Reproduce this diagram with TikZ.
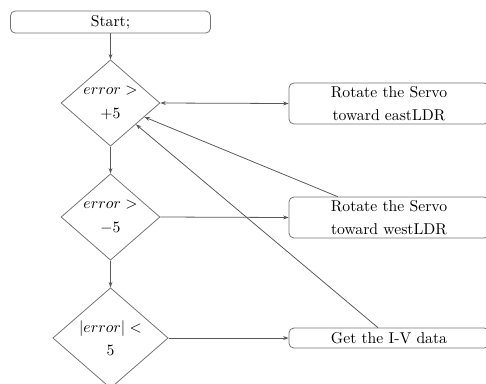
\documentclass[tikz,border=0pt]{standalone}
\usetikzlibrary{shapes.geometric,arrows.meta,calc}
\begin{document}
\begin{tikzpicture}[x=0.637pt,y=-0.637pt,
  line/.style={draw=black!65,line width=0.5pt},
  arr/.style={line,-{Stealth[length=3.5pt,width=2.5pt]}},
  darr/.style={line,{Stealth[length=3.5pt,width=2.5pt]}-{Stealth[length=3.5pt,width=2.5pt]}},
  procbox/.style={draw=black!55,line width=0.5pt,rounded corners=3pt,
    minimum width=127.4pt,inner sep=0pt,align=center},
  decision/.style={draw=black!55,line width=0.5pt,diamond,inner sep=0pt,
    align=center,aspect=1.15}]
  \useasboundingbox (0,0) rectangle (486,383);
  \clip (0,0) rectangle (486,383);

  % main column
  \node[procbox,minimum height=14pt] (start) at (110.5,22) {Start;};
  \node[decision,minimum width=63pt,minimum height=55pt] (d1) at (110.5,103)
    {$error >$\\[3pt] $+5$};
  \node[decision,minimum width=63pt,minimum height=55pt] (d2) at (110.5,217)
    {$error >$\\[3pt] $-5$};
  \node[decision,minimum width=73.5pt,minimum height=64pt] (d3) at (110.5,338)
    {$|error| <$\\[3pt] $5$};

  % actions on the right
  \node[procbox,minimum height=26pt] (b1) at (389,103.5)
    {Rotate the Servo\\[3pt] toward eastLDR};
  \node[procbox,minimum height=26pt] (b2) at (389,217.5)
    {Rotate the Servo\\[3pt] toward westLDR};
  \node[procbox,minimum height=12.7pt] (b3) at (389,338) {Get the I-V data};

  % flow
  \draw[arr] (start) -- (d1);
  \draw[arr] (d1) -- (d2);
  \draw[arr] (d2) -- (d3);
  \draw[darr] (d1.east) -- (b1.west);
  \draw[arr] (d2.east) -- (b2.west);
  \draw[arr] (d3.east) -- (b3.west);

  % loop back to the first test
  \coordinate (r2) at ($(b2.north west)!0.245!(b2.north east)$);
  \coordinate (r3) at ($(b3.north west)!0.445!(b3.north east)$);
  \draw[arr] (r2) -- (d1);
  \draw[arr] (r3) -- (d1);
\end{tikzpicture}
\end{document}
